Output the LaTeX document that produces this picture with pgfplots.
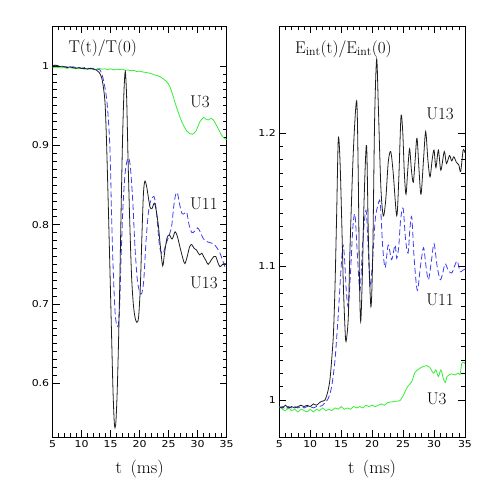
\documentclass[border=0pt]{standalone}
\usepackage{fontspec}
\usepackage{pgfplots}
\pgfplotsset{compat=1.18}
\newfontfamily\tickfont[FakeStretch=1.15]{DejaVu Sans}
\newcommand{\lab}{\fontsize{17}{20}\selectfont}
\definecolor{cgreen}{RGB}{50,240,50}
\definecolor{cblue}{RGB}{60,60,240}
\definecolor{cblack}{RGB}{30,30,30}
\pgfplotsset{
  myax/.style={
    scale only axis, anchor=south west,
    xmin=5, xmax=35, xtick={5,10,...,35}, minor x tick num=4,
    tick align=inside, major tick length=7pt, minor tick length=4pt,
    ticklabel style={font=\tickfont\fontsize{9.5}{10}\selectfont},
    /pgf/number format/assume math mode=true,
    xlabel={t\,\ (ms)},
    xlabel style={font=\fontsize{18}{20}\selectfont, at={(axis description cs:0.5,0)}, anchor=base, yshift=-36.7pt},
    every axis plot/.append style={line width=0.8pt, smooth, tension=0.5},
    axis line style={line width=0.8pt},
    every tick/.style={line width=0.6pt, black},
  },
}
\begin{document}
\begin{tikzpicture}[x=1pt,y=1pt]
\path[use as bounding box] (0,0) rectangle (491,491);
% ---------------- left panel ----------------
\begin{axis}[myax, at={(52.7pt,53.7pt)}, width=174pt, height=411.3pt,
  ymin=0.532, ymax=1.0504, ytick={0.6,0.7,0.8,0.9,1}, minor y tick num=9]
\addplot[cgreen] coordinates {
(5,0.998)(5.5,0.9985)(6,0.998)(6.5,0.9975)(7,0.998)(7.5,0.997)(8,0.998)(8.5,0.997)(9,0.9975)(9.5,0.9965)
(10,0.997)(10.5,0.996)(11,0.997)(11.5,0.996)(12,0.9965)(12.5,0.9955)(13,0.997)(13.5,0.996)(14,0.9965)(14.5,0.9955)
(15,0.9965)(15.5,0.995)(16,0.996)(16.5,0.9955)(17,0.996)(17.5,0.9945)(18,0.995)(18.5,0.994)(19,0.9945)(19.5,0.993)
(20,0.9935)(20.5,0.9925)(21,0.992)(21.8,0.9908)(22.5,0.989)(23.5,0.9866)(24.2,0.983)(24.66,0.980)(25.2,0.974)(25.8,0.961)
(26.4,0.947)(27.24,0.930)(28.1,0.918)(28.6,0.915)(29.1,0.914)(29.7,0.918)(30.1,0.925)(30.4,0.930)(31.0,0.935)(31.4,0.933)
(31.8,0.932)(32.3,0.934)(32.7,0.932)(33.4,0.923)(34.1,0.913)(34.6,0.909)(35,0.907)};
\addplot[cblue, dash pattern=on 6pt off 3pt] coordinates {
(5,1.001)(5.5,1.001)(6,1.000)(6.5,1.000)(7,0.999)(7.5,0.999)(8,0.998)(8.5,0.999)(9,0.998)(9.5,0.998)
(10,0.997)(10.5,0.998)(11,0.997)(11.5,0.997)(12,0.997)(12.5,0.996)(13.16,0.995)(13.7,0.984)(14.26,0.961)(14.6,0.932)
(14.9,0.89)(15.17,0.806)(15.45,0.74)(15.75,0.69)(16.0,0.675)(16.31,0.673)(16.55,0.70)(16.8,0.76)(17.1,0.82)(17.45,0.862)
(17.8,0.880)(18.1,0.884)(18.4,0.872)(18.8,0.83)(19.2,0.77)(19.6,0.73)(20.0,0.715)(20.34,0.713)(20.7,0.73)(21.1,0.78)
(21.5,0.815)(21.9,0.830)(22.5,0.835)(22.9,0.815)(23.4,0.774)(23.8,0.764)(24.07,0.764)(24.5,0.775)(25.0,0.785)(25.5,0.798)
(25.9,0.825)(26.2,0.838)(26.5,0.840)(26.9,0.825)(27.3,0.814)(27.7,0.814)(28.1,0.816)(28.5,0.80)(29.0,0.790)(29.5,0.792)
(30.0,0.796)(30.5,0.790)(31.0,0.782)(31.8,0.778)(32.7,0.776)(33.3,0.771)(33.85,0.764)(34.3,0.755)(34.7,0.747)(35,0.746)};
\addplot[cblack] coordinates {
(5,1.000)(5.5,1.001)(6,1.000)(6.5,0.999)(7,0.999)(7.5,0.998)(8,0.999)(8.5,0.998)(9,0.997)(9.5,0.998)
(10,0.997)(10.5,0.997)(11,0.996)(11.5,0.997)(12,0.996)(12.5,0.995)(13,0.992)(13.45,0.985)(13.8,0.97)(14.05,0.95)
(14.3,0.90)(14.6,0.82)(14.88,0.74)(15.17,0.655)(15.4,0.59)(15.6,0.553)(15.74,0.544)(15.9,0.552)(16.1,0.585)(16.31,0.64)
(16.55,0.72)(16.8,0.82)(17.05,0.91)(17.3,0.97)(17.52,0.993)(17.75,0.96)(18.0,0.88)(18.3,0.80)(18.6,0.735)(18.9,0.70)
(19.2,0.683)(19.5,0.677)(19.8,0.683)(20.1,0.72)(20.4,0.79)(20.65,0.84)(20.9,0.855)(21.2,0.848)(21.5,0.834)(21.8,0.822)
(22.1,0.820)(22.5,0.827)(22.8,0.820)(23.2,0.80)(23.6,0.77)(23.97,0.748)(24.3,0.765)(24.7,0.783)(25.1,0.787)(25.6,0.782)
(26.1,0.791)(26.5,0.785)(27.0,0.770)(27.5,0.756)(27.8,0.751)(28.2,0.760)(28.6,0.772)(28.96,0.775)(29.4,0.770)(29.8,0.768)
(30.3,0.762)(30.7,0.764)(31.0,0.760)(31.4,0.755)(31.8,0.750)(32.3,0.755)(32.8,0.760)(33.1,0.760)(33.5,0.752)(33.85,0.747)
(34.3,0.750)(34.7,0.751)(35,0.749)};
\node[anchor=base west, font=\lab] at (axis cs:7.12,1.0164) {T(t)/T(0)};
\node[anchor=base west, font=\lab] at (axis cs:28.1,0.9479) {U3};
\node[anchor=base west, font=\lab] at (axis cs:28.1,0.8193) {U11};
\node[anchor=base west, font=\lab] at (axis cs:28.1,0.7197) {U13};
\end{axis}
% ---------------- right panel ----------------
\begin{axis}[myax, at={(279.3pt,53.7pt)}, width=185.7pt, height=411.3pt,
  ymin=0.972, ymax=1.280, ytick={1,1.1,1.2}, minor y tick num=9]
\addplot[cgreen] coordinates {
(5,0.995)(5.5,0.993)(6,0.992)(6.5,0.994)(7,0.992)(7.5,0.993)(8,0.991)(8.5,0.993)(9,0.992)(9.5,0.991)
(10,0.993)(10.5,0.991)(11,0.993)(11.5,0.992)(12,0.994)(12.5,0.992)(13,0.993)(13.5,0.992)(14,0.994)(14.5,0.993)
(15,0.995)(15.5,0.993)(16,0.994)(16.5,0.993)(17,0.995)(17.5,0.994)(18,0.995)(18.5,0.994)(19,0.996)(19.5,0.995)
(20,0.996)(20.5,0.995)(21,0.996)(21.5,0.997)(22,0.996)(22.5,0.998)(23.2,0.9985)(23.8,0.999)(24.5,0.9995)(25.0,1.003)
(25.3,1.006)(25.8,1.0105)(26.4,1.0137)(26.9,1.0205)(27.5,1.023)(28.0,1.0245)(28.8,1.0257)(29.3,1.0245)(29.9,1.020)(30.3,1.0225)
(30.7,1.0175)(31.1,1.0225)(31.5,1.016)(31.8,1.013)(32.1,1.0175)(32.5,1.019)(32.85,1.0195)(33.4,1.0187)(33.9,1.020)(34.2,1.019)
(34.5,1.0275)(34.9,1.028)(35,1.027)};
\addplot[cblue, dash pattern=on 6pt off 3pt] coordinates {
(5,0.994)(5.5,0.995)(6,0.993)(6.5,0.995)(7,0.994)(7.5,0.995)(8,0.994)(8.5,0.995)(9,0.994)(9.5,0.995)
(10,0.995)(10.5,0.994)(11,0.995)(11.5,0.995)(12,0.996)(12.4,0.998)(12.9,1.001)(13.46,1.01)(14.0,1.03)(14.5,1.062)
(15.0,1.10)(15.3,1.116)(15.55,1.105)(15.85,1.08)(16.15,1.070)(16.5,1.095)(16.9,1.13)(17.23,1.1386)(17.6,1.11)(18.04,1.082)
(18.5,1.12)(19.0,1.142)(19.3,1.12)(19.65,1.085)(20.0,1.10)(20.5,1.135)(20.9,1.145)(21.3,1.148)(21.7,1.115)(22.1,1.099)
(22.6,1.116)(23.15,1.105)(23.7,1.116)(23.97,1.106)(24.3,1.115)(24.6,1.135)(25.0,1.1436)(25.4,1.12)(25.8,1.11)(26.1,1.128)
(26.4,1.137)(26.8,1.105)(27.3,1.082)(27.8,1.10)(28.3,1.114)(28.7,1.10)(29.1,1.09)(29.6,1.105)(30.0,1.117)(30.5,1.10)
(31.0,1.09)(31.4,1.095)(31.8,1.102)(32.3,1.097)(32.85,1.095)(33.3,1.100)(33.75,1.104)(34.2,1.096)(34.6,1.097)(35,1.098)};
\addplot[cblack] coordinates {
(5,0.995)(5.5,0.994)(6,0.996)(6.5,0.994)(7,0.995)(7.5,0.994)(8,0.995)(8.5,0.996)(9,0.995)(9.5,0.996)
(10,0.995)(10.5,0.997)(11,0.996)(11.5,0.998)(11.85,0.999)(12.4,1.000)(12.9,1.0075)(13.2,1.016)(13.46,1.03)(13.75,1.05)
(14.0,1.085)(14.27,1.14)(14.53,1.1955)(14.8,1.18)(15.08,1.135)(15.34,1.087)(15.6,1.055)(15.78,1.0437)(16.15,1.062)(16.4,1.11)
(16.95,1.185)(17.5,1.224)(17.75,1.17)(17.95,1.09)(18.15,1.0587)(18.4,1.09)(18.7,1.15)(19.1,1.1905)(19.4,1.12)(19.8,1.0699)
(20.1,1.11)(20.4,1.21)(20.73,1.2552)(21.0,1.22)(21.4,1.16)(21.8,1.1378)(22.2,1.15)(22.6,1.178)(23.0,1.186)(23.4,1.170)
(23.97,1.138)(24.3,1.165)(24.66,1.2122)(24.95,1.20)(25.2,1.17)(25.47,1.154)(25.75,1.172)(26.05,1.188)(26.35,1.172)(26.65,1.163)
(26.95,1.18)(27.25,1.196)(27.6,1.17)(27.9,1.154)(28.3,1.18)(28.65,1.201)(29.0,1.18)(29.35,1.167)(29.7,1.18)(30.0,1.187)
(30.3,1.174)(30.7,1.187)(31.1,1.172)(31.65,1.186)(32.0,1.177)(32.5,1.183)(32.85,1.179)(33.2,1.182)(33.6,1.178)(34.0,1.176)
(34.3,1.171)(34.7,1.187)(35,1.185)};
\node[anchor=base west, font=\lab] at (axis cs:7.0,1.2597) {E$_{\mathrm{int}}$(t)/E$_{\mathrm{int}}$(0)};
\node[anchor=base west, font=\lab] at (axis cs:28.17,1.2097) {U13};
\node[anchor=base west, font=\lab] at (axis cs:28.17,1.0704) {U11};
\node[anchor=base west, font=\lab] at (axis cs:28.27,0.9963) {U3};
\end{axis}
\end{tikzpicture}
\end{document}
